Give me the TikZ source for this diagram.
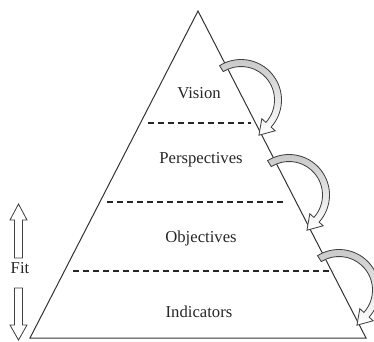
\documentclass[tikz,border=0pt]{standalone}
\usepackage{fontspec}
\setmainfont{Liberation Serif}

\tikzstyle{level} = [font=\fontsize{10}{12}\selectfont, text=black!85, inner sep=1pt]
\tikzstyle{edge} = [draw=black!80, line width=0.6pt]
\tikzstyle{cut} = [draw=black!85, line width=0.65pt, dash pattern=on 3.6pt off 2.4pt]
\tikzstyle{hollow} = [draw=black!75, line width=0.5pt, top color=gray!45, middle color=white, bottom color=white]
\tikzstyle{fitarrow} = [draw=black!75, line width=0.5pt, fill=white]

\newcommand{\bendarrow}[1]{%
	\draw[hollow] ([shift={(122:40.5)}]#1) arc[start angle=122, end angle=-42, radius=40.5]
		-- ([shift={(-42:46)}]#1) -- ([shift={(-63:39.5)}]#1) -- ([shift={(-42:28)}]#1)
		-- ([shift={(-42:33.5)}]#1) arc[start angle=-42, end angle=122, radius=33.5] -- cycle;}

\begin{document}
\begin{tikzpicture}[x=0.6pt, y=0.6pt]
	\useasboundingbox (0,0) rectangle (374,341);
	\clip (0,0) rectangle (374,341);

	\coordinate (apex) at (198,330);
	\coordinate (bl) at (30,3);
	\coordinate (br) at (366,3);

	\draw[edge] (apex) -- (bl) -- (br) -- cycle;

	\coordinate (d1l) at (148,218);
	\coordinate (d1r) at (251,218);
	\coordinate (d2l) at (107,139);
	\coordinate (d2r) at (285,139);
	\coordinate (d3l) at (73,70);
	\coordinate (d3r) at (333,70);

	\draw[cut] (d1l) -- (d1r);
	\draw[cut] (d2l) -- (d2r);
	\draw[cut] (d3l) -- (d3r);

	\node[level] (vision) at (199,248) {Vision};
	\node[level] (persp) at (201,181) {Perspectives};
	\node[level] (obj) at (201,103) {Objectives};
	\node[level] (ind) at (199,29) {Indicators};

	\coordinate (c1) at (241,241);
	\coordinate (c2) at (289,146);
	\coordinate (c3) at (339,51);

	\bendarrow{c1}
	\bendarrow{c2}
	\bendarrow{c3}

	\node[level] (fit) at (20,73) {Fit};

	\coordinate (upbase) at (18.5,83);
	\coordinate (downtop) at (18.5,53);

	\draw[fitarrow] ([shift={(-4,0)}]upbase) -- ++(0,38) -- ++(-4.5,0) -- ++(8.5,16) -- ++(8.5,-16) -- ++(-4.5,0) -- ++(0,-38) -- cycle;
	\draw[fitarrow] ([shift={(-4,0)}]downtop) -- ++(0,-37) -- ++(-4.5,0) -- ++(8.5,-15) -- ++(8.5,15) -- ++(-4.5,0) -- ++(0,37) -- cycle;
\end{tikzpicture}
\end{document}
